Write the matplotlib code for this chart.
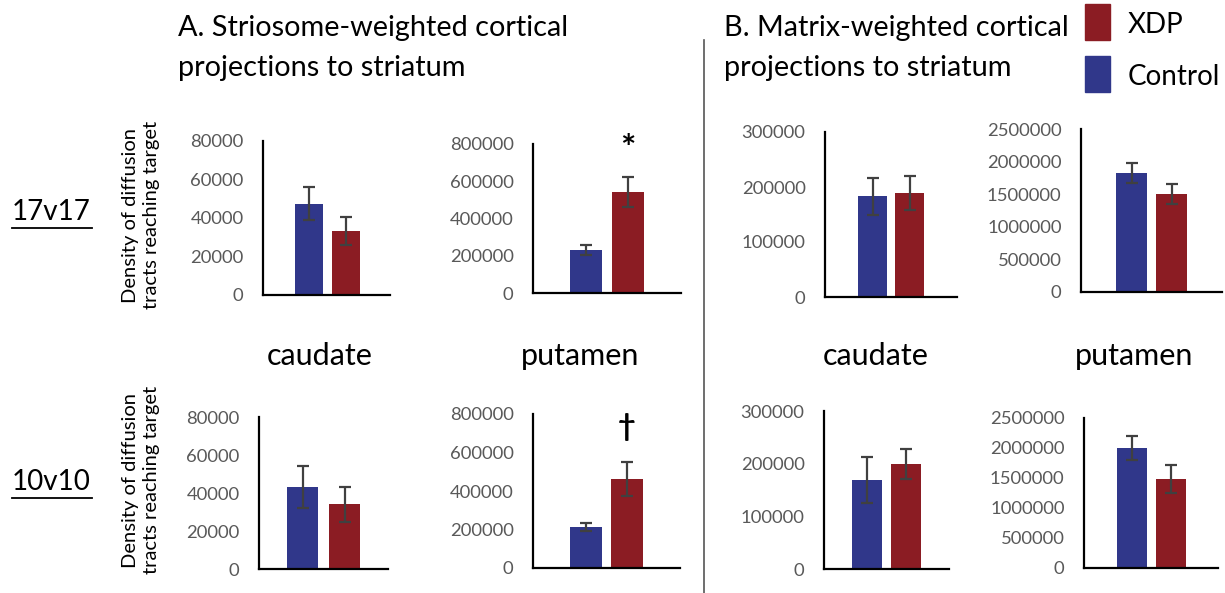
import numpy as np
import matplotlib
matplotlib.use("Agg")
import matplotlib.pyplot as plt

plt.rcParams['font.family'] = ['Lato', 'DejaVu Sans']

groups = ["Control", "XDP"]
colors = ["#30378a", "#8b1c23"]

# 17v17 row: caudate, putamen (striosome), caudate, putamen (matrix)
means_17 = [[47500, 33200], [231000, 542000], [183000, 189000], [1825000, 1505000]]
errs_17 = [[8500, 7300], [27000, 80000], [33000, 31000], [150000, 150000]]
# 10v10 row
means_10 = [[43000, 34000], [213000, 462000], [169000, 199000], [2000000, 1485000]]
errs_10 = [[11000, 9000], [21000, 89000], [44000, 29000], [200000, 234000]]

ymax = [80000, 800000, 300000, 2500000]
ystep = [20000, 200000, 100000, 500000]
marks = [["", "*", "", ""], ["", "\u2020", "", ""]]

W, H = 1225, 593
fig = plt.figure(figsize=(W / 100, H / 100), dpi=100)

# axes boxes in pixels: left, right, top, bottom, first bar centre, bar spacing, bar width
boxes = [
    [(263, 390, 141, 295, 309, 36.5, 28), (533, 681, 144, 293, 586, 42, 32),
     (825, 957, 132, 297, 872.5, 37, 29), (1081, 1222, 129, 292, 1131.5, 40, 31)],
    [(259, 388, 417, 569, 302.5, 42, 31), (533, 680, 414, 568, 585.5, 41.5, 32),
     (824, 949, 411, 569, 867, 39, 30), (1084, 1218, 418, 568, 1132, 38.5, 30)],
]
mark_y = [0.96, 0.915]  # axes fraction of the significance marks
mark_size = [26, 22]

for r, (means, errs) in enumerate([(means_17, errs_17), (means_10, errs_10)]):
    for c in range(4):
        l, rr, t, b, bc, sp, bw = boxes[r][c]
        ax = fig.add_axes([l / W, 1 - b / H, (rr - l) / W, (b - t) / H])
        x = np.arange(2)
        ax.bar(x, means[c], width=bw / sp, color=colors, zorder=2)
        ax.errorbar(x, means[c], yerr=errs[c], fmt="none", ecolor="#404040",
                    elinewidth=1.6, capsize=4, capthick=1.6, zorder=3)
        ax.set_xlim((l - bc) / sp, (rr - bc) / sp)
        ax.set_ylim(0, ymax[c])
        ax.set_yticks(np.arange(0, ymax[c] + 1, ystep[c]))
        ax.set_yticklabels([str(v) for v in np.arange(0, ymax[c] + 1, ystep[c])])
        ax.set_xticks([])
        ax.tick_params(axis="y", length=0, pad=14, labelsize=13.3, labelcolor="#595959")
        for s in ["top", "right"]:
            ax.spines[s].set_visible(False)
        for s in ["left", "bottom"]:
            ax.spines[s].set_linewidth(1.6)
            ax.spines[s].set_color("black")
        ax.patch.set_alpha(0)
        if marks[r][c]:
            ax.text(1, mark_y[r], marks[r][c], transform=ax.get_xaxis_transform(),
                    ha="center", va="center", fontsize=mark_size[r], fontweight="bold")

# titles
fig.text(178 / W, 1 - 28 / H, "A. Striosome-weighted cortical", fontsize=20.8, va="center")
fig.text(178 / W, 1 - 68 / H, "projections to striatum", fontsize=20.8, va="center")
fig.text(724 / W, 1 - 28 / H, "B. Matrix-weighted cortical", fontsize=20.8, va="center")
fig.text(724 / W, 1 - 68 / H, "projections to striatum", fontsize=20.8, va="center")

# row labels
for y, lab in [(212, "17v17"), (482, "10v10")]:
    fig.text(12 / W, 1 - y / H, lab, fontsize=20, va="center", ha="left")
    fig.add_artist(plt.Line2D([12 / W, 92 / W], [1 - (y + 16) / H] * 2, color="black", lw=1.3))

for y in [215, 480]:
    fig.text(141 / W, 1 - y / H, "Density of diffusion\ntracts reaching target", rotation=90,
             fontsize=14.5, ha="center", va="center", linespacing=1.35)

for x, lab in [(320, "caudate"), (580, "putamen"), (876, "caudate"), (1134, "putamen")]:
    fig.text(x / W, 1 - 356 / H, lab, fontsize=22, ha="center", va="center")

# separator
fig.add_artist(plt.Line2D([704 / W, 704 / W], [0, 1 - 40 / H], color="#555555", lw=1.2))

# legend
for y, col, lab in [(22, colors[1], "XDP"), (74, colors[0], "Control")]:
    fig.add_artist(plt.Rectangle((1085 / W, 1 - (y + 18) / H), 25 / W, 36 / H, color=col))
    fig.text(1128 / W, 1 - (y + 3) / H, lab, fontsize=20, va="center")

fig.savefig("out.png", dpi=100)
